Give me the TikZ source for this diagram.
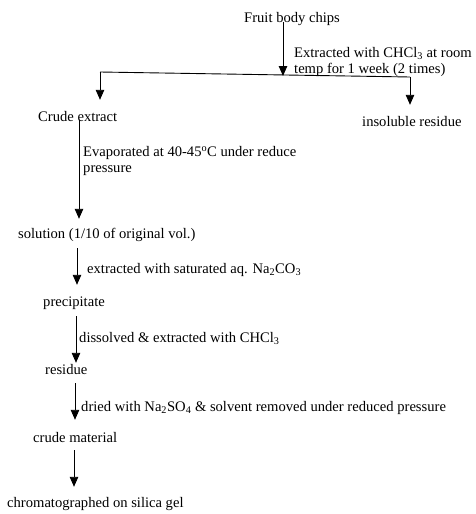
\documentclass[tikz,border=0pt]{standalone}
\usepackage{fontspec}
\setmainfont{Liberation Serif}
\usetikzlibrary{arrows.meta}
\begin{document}
\begin{tikzpicture}[x=1pt,y=-1pt,
  txt/.style={inner sep=0pt,anchor=base west,font=\fontsize{14.6}{15}\selectfont,text height=10.5pt,text depth=3.5pt},
  lbl/.style={inner sep=0pt,anchor=base west,font=\fontsize{14.6}{15.5}\selectfont,align=left},
  arr/.style={-{Triangle[width=8.5pt,length=10pt]},line width=0.9pt},
  ln/.style={line width=0.9pt}]
\useasboundingbox (0,0) rectangle (475,514);
% nodes
\node[txt] (fruit) at (244,23) {Fruit body chips};
\node[txt] (crude) at (38,121) {Crude extract};
\node[txt] (insol) at (362,126) {insoluble residue};
\node[txt] (sol) at (18,238) {solution (1/10 of original vol.)};
\node[txt] (prec) at (43,306) {precipitate};
\node[txt] (res) at (45,374) {residue};
\node[txt] (cmat) at (33,442) {crude material};
\node[txt] (chrom) at (7,507) {chromatographed on silica gel};
% labels (base = baseline of last line)
\node[lbl] (l1) at (294,73) {Extracted with CHCl\textsubscript{3} at room\\temp for 1 week (2 times)};
\node[lbl] (l2) at (83,172) {Evaporated at 40-45\textsuperscript{o}C under reduce\\pressure};
\node[lbl] (l3) at (87,273) {extracted with saturated aq. Na\textsubscript{2}CO\textsubscript{3}};
\node[lbl] (l4) at (79,342) {dissolved \& extracted with CHCl\textsubscript{3}};
\node[lbl] (l5) at (81,411) {dried with Na\textsubscript{2}SO\textsubscript{4} \& solvent removed under reduced pressure};
% connectors
\coordinate (j) at (283,76);
\coordinate (jl) at (100,72);
\coordinate (jr) at (410,77);
\draw[arr,shorten <=-4.5pt] (fruit.south -| j) -- (j);
\draw[ln] (jl) -- (jr);
\draw[arr,shorten >=10.5pt] (jl) -- (jl |- crude.north);
\draw[arr,shorten >=10.5pt] (jr) -- (jr |- insol.north);
\draw[arr,shorten <=-4.5pt,shorten >=8.5pt] (crude.south -| 79,0) -- (sol.north -| 79,0);
\draw[arr,shorten <=6.5pt,shorten >=10.5pt] (sol.south -| 77,0) -- (prec.north -| 77,0);
\draw[arr,shorten <=6.5pt,shorten >=0.5pt] (prec.south -| 76,0) -- (res.north -| 76,0);
\draw[arr,shorten <=5.5pt,shorten >=11.5pt] (res.south -| 75,0) -- (cmat.north -| 75,0);
\draw[arr,shorten <=4.5pt,shorten >=9.5pt] (cmat.south -| 74,0) -- (chrom.north -| 74,0);
\end{tikzpicture}
\end{document}
